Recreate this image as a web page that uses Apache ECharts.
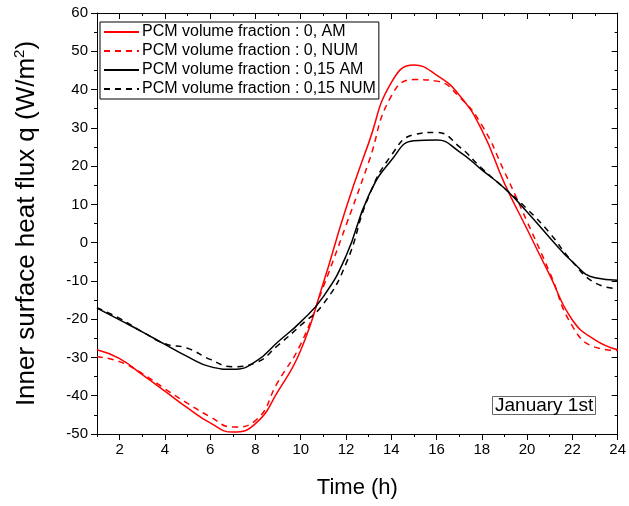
<!DOCTYPE html>
<html>
<head>
<meta charset="utf-8">
<script src="https://cdn.jsdelivr.net/npm/echarts@6/dist/echarts.min.js"></script>
<style>
html,body{margin:0;padding:0;background:#fff;}
#chart{width:629px;height:506px;}
</style>
</head>
<body>
<div id="chart"></div>
<script>
// ---- data ----
var hours = [1,2,3,4,5,6,7,8,9,10,11,12,13,14,15,16,17,18,19,20,21,22,23,24];
var pcm0AM   = [-28, -30.3, -34.5, -38.8, -43.2, -47.1, -49.5, -47.3, -38.8, -28.1, -10.5, 9, 26, 41.8, 46.4, 43.8, 38.6, 29.4, 15.5, 3.5, -8.5, -20.2, -25.4, -28];
var pcm0NUM  = [-29.8, -31.1, -34.2, -38.2, -42, -45.5, -48.2, -46.5, -36.3, -26.5, -11.5, 4.5, 21, 38.3, 42.6, 42.2, 38.1, 30.7, 18.5, 5.5, -7.8, -21.8, -27.3, -28.2];
var pcm15AM  = [-17.1, -20.2, -23.3, -26.6, -29.8, -32.4, -33.1, -31.1, -25.9, -20.7, -14.1, -3.5, 12.3, 21.5, 26.6, 26.8, 23.8, 19.0, 14.2, 8, 1.3, -5, -9.2, -9.8];
var pcm15NUM = [-17, -19.8, -23.3, -26.4, -27.6, -30.5, -32.4, -31.4, -26.8, -21.6, -16, -5.5, 12, 22.8, 28.2, 28.8, 25.1, 19.4, 14.2, 8.8, 2.5, -5, -10.5, -12];
var seriesNames = ['PCM volume fraction : 0, AM', 'PCM volume fraction : 0, NUM', 'PCM volume fraction : 0,15 AM', 'PCM volume fraction : 0,15 NUM'];
var xMajorTicks = [2,4,6,8,10,12,14,16,18,20,22,24];
var xMinorTicks = [1,3,5,7,9,11,13,15,17,19,21,23];
var yMin = -50, yMax = 60, yStep = 10;
var xMin = 1, xMax = 24;
var xTitle = 'Time (h)';
var yTitle = 'Inner surface heat flux q (W/m{sup|2})';
var noteText = 'January 1st';

function pairs(vals){ return hours.map(function(h,i){ return [h, vals[i]]; }); }

var FONT = '"Liberation Sans", Arial, sans-serif';
var chart = echarts.init(document.getElementById('chart'), null, {renderer:'canvas'});

function xAx(pos, ticks, len, inside, labels){
  return {
    type:'value', position:pos, min:xMin, max:xMax, interval:1,
    axisLine:{show:true, onZero:false, lineStyle:{color:'#000', width:1}},
    axisTick:{show:true, inside:inside, length:len, customValues:ticks, lineStyle:{color:'#000', width:1}},
    axisLabel: labels ? {show:true, customValues:xMajorTicks, color:'#000', fontSize:15, fontFamily:FONT, margin:8} : {show:false},
    splitLine:{show:false},
    name: labels ? xTitle : '',
    nameLocation:'middle', nameGap:43,
    nameTextStyle:{color:'#000', fontSize:22, fontFamily:FONT}
  };
}

var lineW = 1.5;
var option = {
  animation:false,
  backgroundColor:'#fff',
  grid:{left:97, right:10, top:13, bottom:72, containLabel:false},
  title:{
    text:noteText, left:492, top:396,
    padding:[0,3,0,3],
    borderColor:'#666', borderWidth:1,
    textStyle:{color:'#000', fontSize:19, fontWeight:'normal', fontFamily:FONT, lineHeight:19}
  },
  legend:{
    orient:'vertical', left:100, top:22,
    padding:[2,3,2,3], itemGap:3,
    itemWidth:35, itemHeight:14,
    borderColor:'#000', borderWidth:1,
    backgroundColor:'#fff',
    itemStyle:{opacity:0},
    textStyle:{color:'#000', fontSize:16, fontFamily:FONT, padding:[0,0,0,-2]},
    data:seriesNames
  },
  xAxis:[
    xAx('bottom', xMajorTicks, 6, false, true),
    xAx('bottom', xMinorTicks, 3, false, false),
    xAx('top', xMajorTicks, 6, true, false),
    xAx('top', xMinorTicks, 3, true, false)
  ],
  yAxis:[
    {
      type:'value', position:'left', min:yMin, max:yMax, interval:yStep,
      axisLine:{show:true, onZero:false, lineStyle:{color:'#000', width:1}},
      axisTick:{show:true, inside:false, length:6, lineStyle:{color:'#000'}},
      minorTick:{show:true, splitNumber:2, length:3, lineStyle:{color:'#000'}},
      axisLabel:{color:'#000', fontSize:15, fontFamily:FONT, margin:9},
      splitLine:{show:false},
      name:yTitle, nameLocation:'middle', nameGap:55, nameRotate:90,
      nameTextStyle:{color:'#000', fontSize:26, fontFamily:FONT,
        rich:{sup:{fontSize:15, fontFamily:FONT, color:'#000', verticalAlign:'top', lineHeight:30}}}
    },
    {
      type:'value', position:'right', min:yMin, max:yMax, interval:yStep,
      axisLine:{show:true, onZero:false, lineStyle:{color:'#000', width:1}},
      axisTick:{show:true, inside:true, length:6, lineStyle:{color:'#000'}},
      minorTick:{show:true, splitNumber:2, length:3, lineStyle:{color:'#000'}},
      axisLabel:{show:false},
      splitLine:{show:false}
    }
  ],
  series:[
    {name:seriesNames[0], type:'line', data:pairs(pcm0AM), smooth:0.5, symbol:'none',
      lineStyle:{color:'#ff0000', width:lineW, type:'solid'}, itemStyle:{color:'#ff0000'}},
    {name:seriesNames[1], type:'line', data:pairs(pcm0NUM), smooth:0.5, symbol:'none',
      lineStyle:{color:'#ff0000', width:lineW, type:[6,5]}, itemStyle:{color:'#ff0000'}},
    {name:seriesNames[2], type:'line', data:pairs(pcm15AM), smooth:0.5, symbol:'none',
      lineStyle:{color:'#000', width:lineW, type:'solid'}, itemStyle:{color:'#000'}},
    {name:seriesNames[3], type:'line', data:pairs(pcm15NUM), smooth:0.5, symbol:'none',
      lineStyle:{color:'#000', width:lineW, type:[6,5]}, itemStyle:{color:'#000'}}
  ]
};
chart.setOption(option);
</script>
</body>
</html>
